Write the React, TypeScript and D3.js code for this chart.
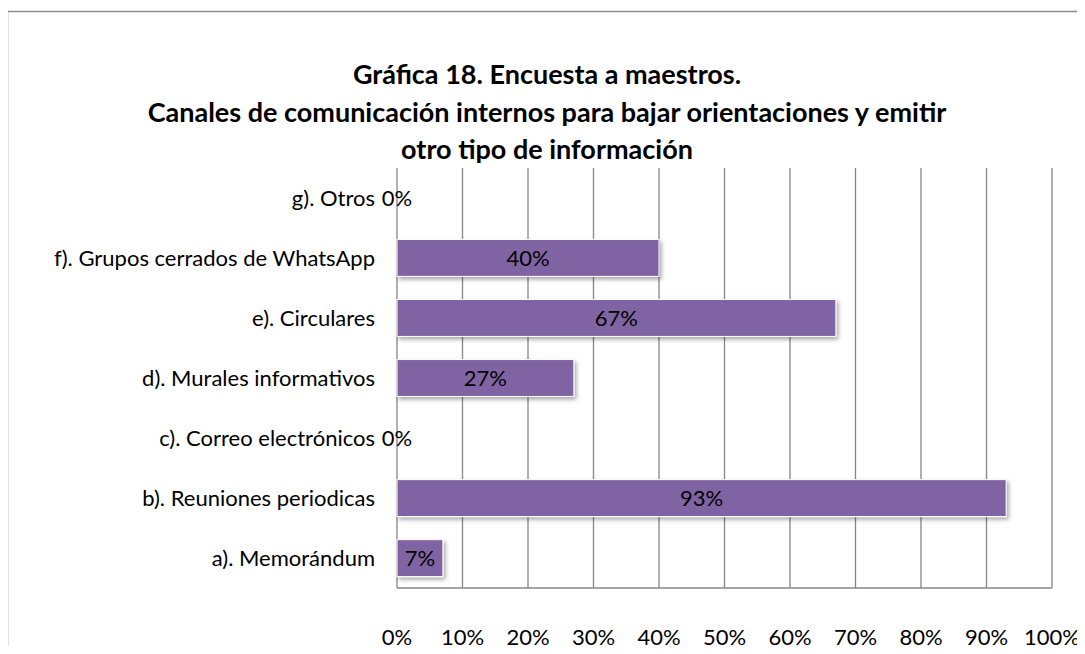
import React, { useRef, useEffect } from 'react';
import * as d3 from 'd3';

const titleLines = [
  'Gráfica 18. Encuesta a maestros.',
  'Canales de comunicación internos para bajar orientaciones y emitir',
  'otro tipo de información',
];

// top to bottom, as drawn
const categories = [
  'g). Otros',
  'f). Grupos cerrados de WhatsApp',
  'e). Circulares',
  'd). Murales informativos',
  'c). Correo electrónicos',
  'b). Reuniones periodicas',
  'a). Memorándum',
];
const values = [0, 40, 67, 27, 0, 93, 7];
const ticks = [0, 10, 20, 30, 40, 50, 60, 70, 80, 90, 100];

export default function App() {
  const svgRef = useRef<SVGSVGElement>(null);

  useEffect(() => {
    if (!svgRef.current) return;
    const width = 1085;
    const height = 654;
    const font = 'Lato, "Open Sans", sans-serif';
    const plot = { left: 397, right: 1052, top: 168, bottom: 588 };

    const svg = d3.select(svgRef.current);
    svg.selectAll('*').remove();
    svg.attr('width', width).attr('height', height);

    const defs = svg.append('defs');
    const f = defs.append('filter').attr('id', 'shadow')
      .attr('x', '-10%').attr('y', '-30%').attr('width', '130%').attr('height', '170%');
    f.append('feDropShadow')
      .attr('dx', 2).attr('dy', 2.5).attr('stdDeviation', 2)
      .attr('flood-color', '#000').attr('flood-opacity', 0.35);

    svg.append('rect').attr('width', width).attr('height', height).attr('fill', '#fff');
    // chart border (cut off right/bottom)
    svg.append('rect')
      .attr('x', 7.5).attr('y', 11.5)
      .attr('width', width + 20).attr('height', height + 20)
      .attr('fill', 'none').attr('stroke', '#8c8c8c').attr('stroke-width', 1.5);

    // title
    svg.append('g').selectAll('text')
      .data(titleLines)
      .join('text')
      .attr('x', 547)
      .attr('y', (_, i) => 84 + i * 37.5)
      .attr('text-anchor', 'middle')
      .attr('font-family', font)
      .attr('font-weight', 'bold')
      .attr('font-size', 27)
      .attr('fill', '#000')
      .text((d) => d);

    const x = d3.scaleLinear().domain([0, 100]).range([plot.left, plot.right]);
    const y = d3.scaleBand<string>().domain(categories).range([plot.top, plot.bottom]).paddingInner(0.385).paddingOuter(0.19);

    // gridlines
    svg.append('g').selectAll('line')
      .data(ticks)
      .join('line')
      .attr('x1', (d) => x(d)).attr('x2', (d) => x(d))
      .attr('y1', plot.top).attr('y2', plot.bottom)
      .attr('stroke', '#868686').attr('stroke-width', 1.3);
    svg.append('line')
      .attr('x1', plot.left).attr('x2', plot.right)
      .attr('y1', plot.bottom).attr('y2', plot.bottom)
      .attr('stroke', '#868686').attr('stroke-width', 1.3);

    // x tick labels
    svg.append('g').selectAll('text')
      .data(ticks)
      .join('text')
      .attr('x', (d) => x(d))
      .attr('y', 645)
      .attr('text-anchor', 'middle')
      .attr('font-family', font)
      .attr('font-size', 22)
      .attr('fill', '#000')
      .text((d) => `${d}%`);

    // category labels
    svg.append('g').selectAll('text')
      .data(categories)
      .join('text')
      .attr('x', 375)
      .attr('y', (d) => (y(d) as number) + y.bandwidth() / 2)
      .attr('dy', '0.36em')
      .attr('text-anchor', 'end')
      .attr('font-family', font)
      .attr('font-size', 22)
      .attr('fill', '#000')
      .text((d) => d);

    const data = categories.map((c, i) => ({ c, v: values[i] }));

    // bars
    svg.append('g').selectAll('rect')
      .data(data.filter((d) => d.v > 0))
      .join('rect')
      .attr('x', x(0))
      .attr('y', (d) => y(d.c) as number)
      .attr('width', (d) => x(d.v) - x(0))
      .attr('height', y.bandwidth())
      .attr('fill', '#8064a2')
      .attr('stroke', '#fff')
      .attr('stroke-width', 1)
      .attr('filter', 'url(#shadow)');

    // value labels
    svg.append('g').selectAll('text')
      .data(data)
      .join('text')
      .attr('x', (d) => (x(0) + x(d.v)) / 2)
      .attr('y', (d) => (y(d.c) as number) + y.bandwidth() / 2)
      .attr('dy', '0.36em')
      .attr('text-anchor', 'middle')
      .attr('font-family', font)
      .attr('font-size', 22)
      .attr('fill', '#000')
      .text((d) => `${d.v}%`);
  }, []);

  return (
    <div style={{ margin: -8 }}>
      <svg ref={svgRef} style={{ display: 'block' }} />
    </div>
  );
}
